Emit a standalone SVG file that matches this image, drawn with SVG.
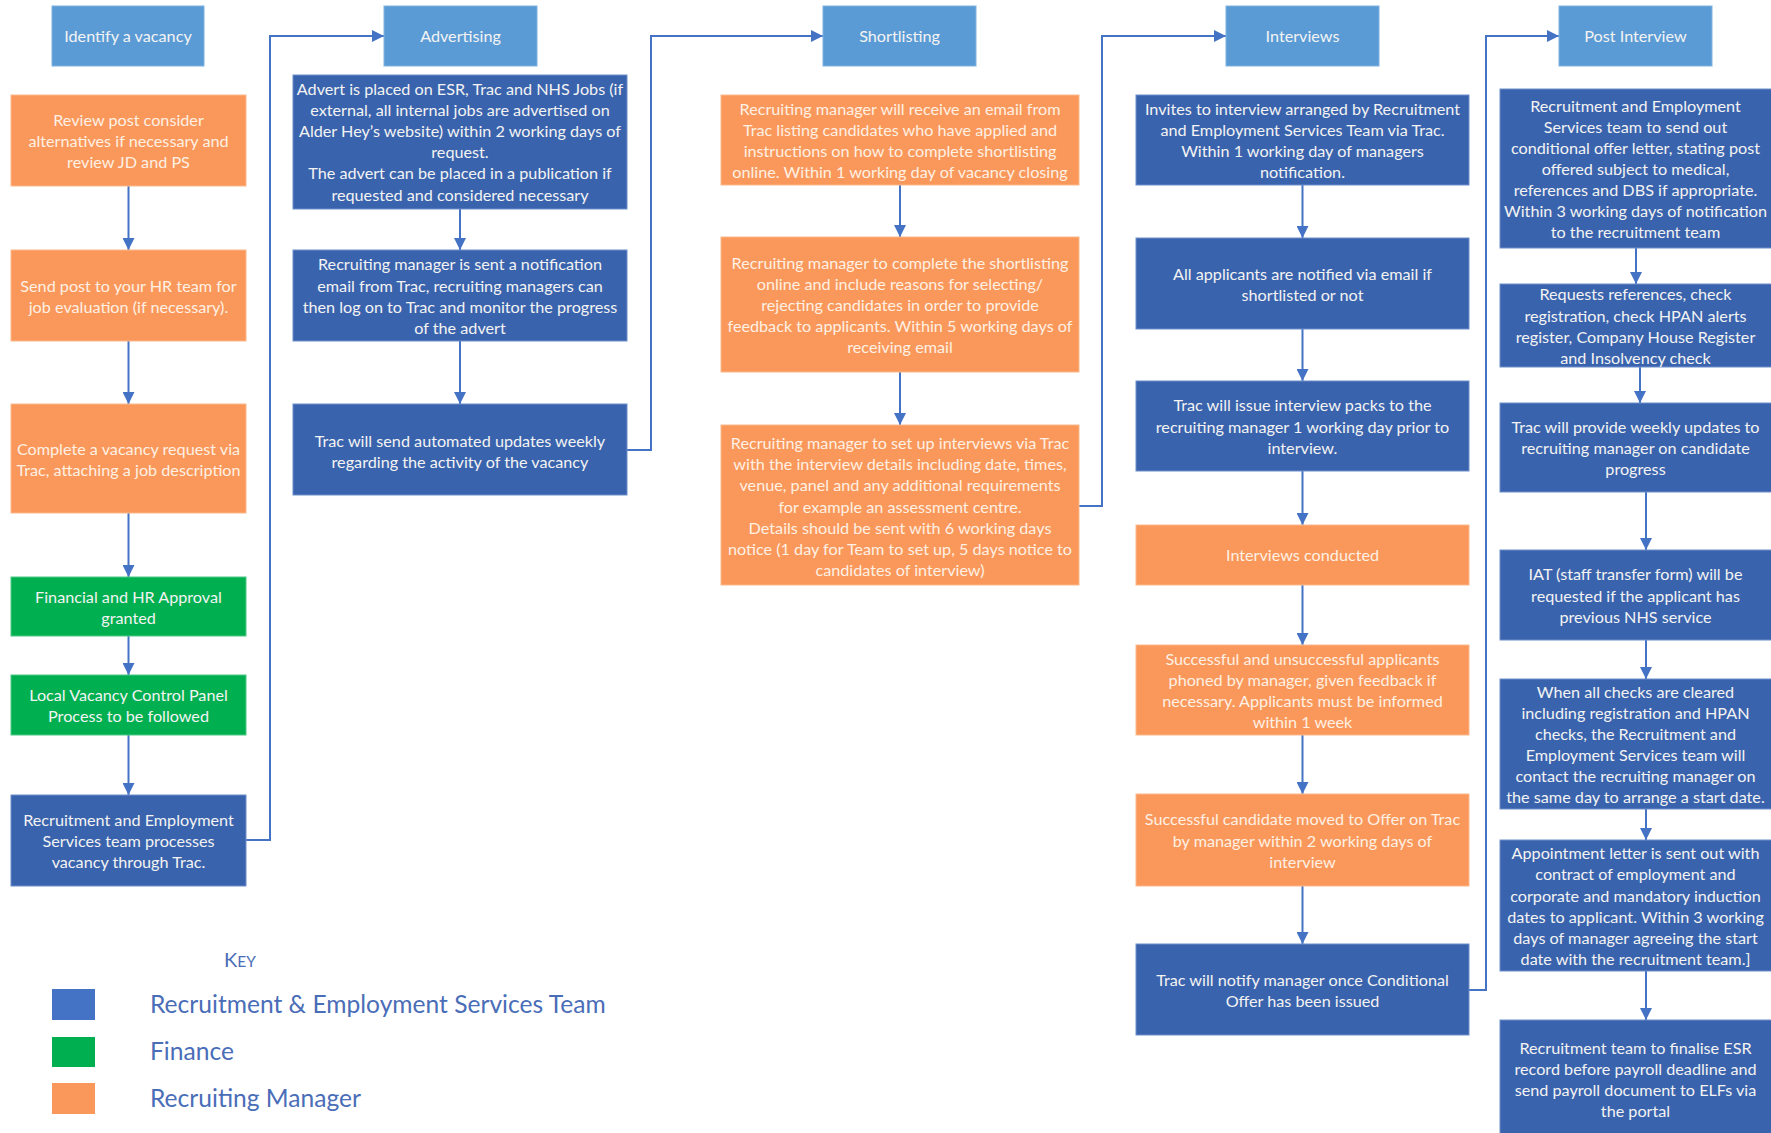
<svg xmlns="http://www.w3.org/2000/svg" width="1771" height="1133" viewBox="0 0 1771 1133">
  <style>
    .hdr { fill: #5B9BD5; stroke: #7FB1DF; stroke-width: 1; }
    .rest { fill: #3A63AD; stroke: #6E8ECB; stroke-width: 1; }
    .mgr { fill: #F9985A; stroke: #FBB98D; stroke-width: 1; }
    .fin { fill: #00B050; stroke: #4CC885; stroke-width: 1; }
    .t { font-family: Lato, "Liberation Sans", sans-serif; font-size: 16.2px; fill: #F3F3F3; text-anchor: middle; }
    .tm { fill: #FFF0E4; }
    .conn path { fill: none; stroke: #4472C4; stroke-width: 2; }
    .key { font-family: Lato, "Liberation Sans", sans-serif; fill: #4A6DB8; }
  </style>
  <defs>
    <marker id="arrow" markerUnits="userSpaceOnUse" markerWidth="12" markerHeight="12" refX="12" refY="6" orient="auto">
      <path d="M0,0 L12,6 L0,12 Z" fill="#4472C4"/>
    </marker>
  </defs>
  <rect width="1771" height="1133" fill="#FFFFFF"/>

  <!-- connectors -->
  <g id="connectors" class="conn" marker-end="url(#arrow)">
    <path d="M128.5,186 V250"/>
    <path d="M128.5,341 V404"/>
    <path d="M128.5,513 V577"/>
    <path d="M128.5,636 V675"/>
    <path d="M128.5,735 V795"/>
    <path d="M246,840 H270 V36 H384"/>
    <path d="M460,209 V250"/>
    <path d="M460,341 V404"/>
    <path d="M627,450 H651 V36 H823"/>
    <path d="M900,185 V237"/>
    <path d="M900,372 V425"/>
    <path d="M1079,506 H1102 V36 H1226"/>
    <path d="M1302.5,185 V238"/>
    <path d="M1302.5,329 V381"/>
    <path d="M1302.5,471 V525"/>
    <path d="M1302.5,585 V645"/>
    <path d="M1302.5,735 V794"/>
    <path d="M1302.5,886 V944"/>
    <path d="M1469,990 H1486 V36 H1559"/>
    <path d="M1636,248 V284"/>
    <path d="M1640,367 V403"/>
    <path d="M1646,492 V550"/>
    <path d="M1646,640 V679"/>
    <path d="M1646,809 V840"/>
    <path d="M1646,971 V1020"/>
  </g>

  <!-- column 1: identify a vacancy -->
  <g id="identify-vacancy">
    <rect class="hdr" x="52" y="6" width="152" height="60"/>
    <text class="t" x="128" y="42">Identify a vacancy</text>
  </g>
  <g id="review-post">
    <rect class="mgr" x="11" y="95" width="235" height="91"/>
    <text class="t tm"><tspan x="128.5" y="125.9">Review post consider</tspan><tspan x="128.5" y="147">alternatives if necessary and</tspan><tspan x="128.5" y="168.1">review JD and PS</tspan></text>
  </g>
  <g id="send-post">
    <rect class="mgr" x="11" y="250" width="235" height="91"/>
    <text class="t tm"><tspan x="128.5" y="291.5">Send post to your HR team for</tspan><tspan x="128.5" y="312.5">job evaluation (if necessary).</tspan></text>
  </g>
  <g id="vacancy-request">
    <rect class="mgr" x="11" y="404" width="235" height="109"/>
    <text class="t tm"><tspan x="128.5" y="454.5">Complete a vacancy request via</tspan><tspan x="128.5" y="475.5">Trac, attaching a job description</tspan></text>
  </g>
  <g id="financial-approval">
    <rect class="fin" x="11" y="577" width="235" height="59"/>
    <text class="t"><tspan x="128.5" y="602.5">Financial and HR Approval</tspan><tspan x="128.5" y="623.5">granted</tspan></text>
  </g>
  <g id="vacancy-panel">
    <rect class="fin" x="11" y="675" width="235" height="60"/>
    <text class="t"><tspan x="128.5" y="701">Local Vacancy Control Panel</tspan><tspan x="128.5" y="722">Process to be followed</tspan></text>
  </g>
  <g id="res-processes">
    <rect class="rest" x="11" y="795" width="235" height="91"/>
    <text class="t"><tspan x="128.5" y="825.9">Recruitment and Employment</tspan><tspan x="128.5" y="847">Services team processes</tspan><tspan x="128.5" y="868.1">vacancy through Trac.</tspan></text>
  </g>

  <!-- column 2: advertising -->
  <g id="advertising">
    <rect class="hdr" x="384" y="6" width="153" height="60"/>
    <text class="t" x="460.5" y="42">Advertising</text>
  </g>
  <g id="advert-placed">
    <rect class="rest" x="293" y="75" width="334" height="134"/>
    <text class="t"><tspan x="460" y="95">Advert is placed on ESR, Trac and NHS Jobs (if</tspan><tspan x="460" y="116.1">external, all internal jobs are advertised on</tspan><tspan x="460" y="137.2">Alder Hey’s website) within 2 working days of</tspan><tspan x="460" y="158.3">request.</tspan><tspan x="460" y="179.4">The advert can be placed in a publication if</tspan><tspan x="460" y="200.5">requested and considered necessary</tspan></text>
  </g>
  <g id="manager-notified">
    <rect class="rest" x="293" y="250" width="334" height="91"/>
    <text class="t"><tspan x="460" y="270.4">Recruiting manager is sent a notification</tspan><tspan x="460" y="291.5">email from Trac, recruiting managers can</tspan><tspan x="460" y="312.6">then log on to Trac and monitor the progress</tspan><tspan x="460" y="333.7">of the advert</tspan></text>
  </g>
  <g id="weekly-updates">
    <rect class="rest" x="293" y="404" width="334" height="91"/>
    <text class="t"><tspan x="460" y="446.5">Trac will send automated updates weekly</tspan><tspan x="460" y="467.5">regarding the activity of the vacancy</tspan></text>
  </g>

  <!-- column 3: shortlisting -->
  <g id="shortlisting">
    <rect class="hdr" x="823" y="6" width="153" height="60"/>
    <text class="t" x="899.5" y="42">Shortlisting</text>
  </g>
  <g id="shortlist-email">
    <rect class="mgr" x="721" y="95" width="358" height="90"/>
    <text class="t tm"><tspan x="900" y="114.9">Recruiting manager will receive an email from</tspan><tspan x="900" y="136">Trac listing candidates who have applied and</tspan><tspan x="900" y="157.1">instructions on how to complete shortlisting</tspan><tspan x="900" y="178.2">online. Within 1 working day of vacancy closing</tspan></text>
  </g>
  <g id="shortlist-complete">
    <rect class="mgr" x="721" y="237" width="358" height="135"/>
    <text class="t tm"><tspan x="900" y="268.8">Recruiting manager to complete the shortlisting</tspan><tspan x="900" y="289.9">online and include reasons for selecting/</tspan><tspan x="900" y="311">rejecting candidates in order to provide</tspan><tspan x="900" y="332.1">feedback to applicants. Within 5 working days of</tspan><tspan x="900" y="353.2">receiving email</tspan></text>
  </g>
  <g id="setup-interviews">
    <rect class="mgr" x="721" y="425" width="358" height="160"/>
    <text class="t tm"><tspan x="900" y="449.2">Recruiting manager to set up interviews via Trac</tspan><tspan x="900" y="470.3">with the interview details including date, times,</tspan><tspan x="900" y="491.4">venue, panel and any additional requirements</tspan><tspan x="900" y="512.5">for example an assessment centre.</tspan><tspan x="900" y="533.6">Details should be sent with 6 working days</tspan><tspan x="900" y="554.7">notice (1 day for Team to set up, 5 days notice to</tspan><tspan x="900" y="575.8">candidates of interview)</tspan></text>
  </g>

  <!-- column 4: interviews -->
  <g id="interviews">
    <rect class="hdr" x="1226" y="6" width="153" height="60"/>
    <text class="t" x="1302.5" y="42">Interviews</text>
  </g>
  <g id="invites">
    <rect class="rest" x="1136" y="95" width="333" height="90"/>
    <text class="t"><tspan x="1302.5" y="114.9">Invites to interview arranged by Recruitment</tspan><tspan x="1302.5" y="136">and Employment Services Team via Trac.</tspan><tspan x="1302.5" y="157.1">Within 1 working day of managers</tspan><tspan x="1302.5" y="178.2">notification.</tspan></text>
  </g>
  <g id="applicants-notified">
    <rect class="rest" x="1136" y="238" width="333" height="91"/>
    <text class="t"><tspan x="1302.5" y="279.5">All applicants are notified via email if</tspan><tspan x="1302.5" y="300.5">shortlisted or not</tspan></text>
  </g>
  <g id="interview-packs">
    <rect class="rest" x="1136" y="381" width="333" height="90"/>
    <text class="t"><tspan x="1302.5" y="411.4">Trac will issue interview packs to the</tspan><tspan x="1302.5" y="432.5">recruiting manager 1 working day prior to</tspan><tspan x="1302.5" y="453.6">interview.</tspan></text>
  </g>
  <g id="interviews-conducted">
    <rect class="mgr" x="1136" y="525" width="333" height="60"/>
    <text class="t tm" x="1302.5" y="561">Interviews conducted</text>
  </g>
  <g id="applicants-phoned">
    <rect class="mgr" x="1136" y="645" width="333" height="90"/>
    <text class="t tm"><tspan x="1302.5" y="664.9">Successful and unsuccessful applicants</tspan><tspan x="1302.5" y="686">phoned by manager, given feedback if</tspan><tspan x="1302.5" y="707.1">necessary. Applicants must be informed</tspan><tspan x="1302.5" y="728.2">within 1 week</tspan></text>
  </g>
  <g id="moved-to-offer">
    <rect class="mgr" x="1136" y="794" width="333" height="92"/>
    <text class="t tm"><tspan x="1302.5" y="825.4">Successful candidate moved to Offer on Trac</tspan><tspan x="1302.5" y="846.5">by manager within 2 working days of</tspan><tspan x="1302.5" y="867.6">interview</tspan></text>
  </g>
  <g id="offer-issued">
    <rect class="rest" x="1136" y="944" width="333" height="91"/>
    <text class="t"><tspan x="1302.5" y="985.5">Trac will notify manager once Conditional</tspan><tspan x="1302.5" y="1006.5">Offer has been issued</tspan></text>
  </g>

  <!-- column 5: post interview -->
  <g id="post-interview">
    <rect class="hdr" x="1559" y="6" width="153" height="60"/>
    <text class="t" x="1635.5" y="42">Post Interview</text>
  </g>
  <g id="conditional-offer">
    <rect class="rest" x="1500" y="89" width="275" height="159"/>
    <text class="t"><tspan x="1635.5" y="111.7">Recruitment and Employment</tspan><tspan x="1635.5" y="132.8">Services team to send out</tspan><tspan x="1635.5" y="153.9">conditional offer letter, stating post</tspan><tspan x="1635.5" y="175">offered subject to medical,</tspan><tspan x="1635.5" y="196.1">references and DBS if appropriate.</tspan><tspan x="1635.5" y="217.2">Within 3 working days of notification</tspan><tspan x="1635.5" y="238.3">to the recruitment team</tspan></text>
  </g>
  <g id="pre-employment-checks">
    <rect class="rest" x="1500" y="284" width="275" height="83"/>
    <text class="t"><tspan x="1635.5" y="300.4">Requests references, check</tspan><tspan x="1635.5" y="321.5">registration, check HPAN alerts</tspan><tspan x="1635.5" y="342.6">register, Company House Register</tspan><tspan x="1635.5" y="363.7">and Insolvency check</tspan></text>
  </g>
  <g id="candidate-progress">
    <rect class="rest" x="1500" y="403" width="275" height="89"/>
    <text class="t"><tspan x="1635.5" y="432.9">Trac will provide weekly updates to</tspan><tspan x="1635.5" y="454">recruiting manager on candidate</tspan><tspan x="1635.5" y="475.1">progress</tspan></text>
  </g>
  <g id="staff-transfer">
    <rect class="rest" x="1500" y="550" width="275" height="90"/>
    <text class="t"><tspan x="1635.5" y="580.4">IAT (staff transfer form) will be</tspan><tspan x="1635.5" y="601.5">requested if the applicant has</tspan><tspan x="1635.5" y="622.6">previous NHS service</tspan></text>
  </g>
  <g id="checks-cleared">
    <rect class="rest" x="1500" y="679" width="275" height="130"/>
    <text class="t"><tspan x="1635.5" y="697.8">When all checks are cleared</tspan><tspan x="1635.5" y="718.9">including registration and HPAN</tspan><tspan x="1635.5" y="740">checks, the Recruitment and</tspan><tspan x="1635.5" y="761.1">Employment Services team will</tspan><tspan x="1635.5" y="782.2">contact the recruiting manager on</tspan><tspan x="1635.5" y="803.3">the same day to arrange a start date.</tspan></text>
  </g>
  <g id="appointment-letter">
    <rect class="rest" x="1500" y="840" width="275" height="131"/>
    <text class="t"><tspan x="1635.5" y="859.3">Appointment letter is sent out with</tspan><tspan x="1635.5" y="880.4">contract of employment and</tspan><tspan x="1635.5" y="901.5">corporate and mandatory induction</tspan><tspan x="1635.5" y="922.6">dates to applicant. Within 3 working</tspan><tspan x="1635.5" y="943.7">days of manager agreeing the start</tspan><tspan x="1635.5" y="964.8">date with the recruitment team.]</tspan></text>
  </g>
  <g id="finalise-esr">
    <rect class="rest" x="1500" y="1020" width="275" height="120"/>
    <text class="t"><tspan x="1635.5" y="1053.9">Recruitment team to finalise ESR</tspan><tspan x="1635.5" y="1075">record before payroll deadline and</tspan><tspan x="1635.5" y="1096.1">send payroll document to ELFs via</tspan><tspan x="1635.5" y="1117.2">the portal</tspan></text>
  </g>

  <!-- key -->
  <g id="key">
    <text class="key" x="224" y="967" font-size="20">K<tspan font-size="15.5">EY</tspan></text>
    <rect x="52" y="989" width="43" height="31" fill="#4472C4"/>
    <rect x="52" y="1037" width="43" height="30" fill="#00B050"/>
    <rect x="52" y="1083" width="43" height="31" fill="#F9985A"/>
    <text class="key" x="150" y="1013" font-size="24.6">Recruitment &amp; Employment Services Team</text>
    <text class="key" x="150" y="1060" font-size="24.6">Finance</text>
    <text class="key" x="150" y="1107" font-size="24.6">Recruiting Manager</text>
  </g>
</svg>
